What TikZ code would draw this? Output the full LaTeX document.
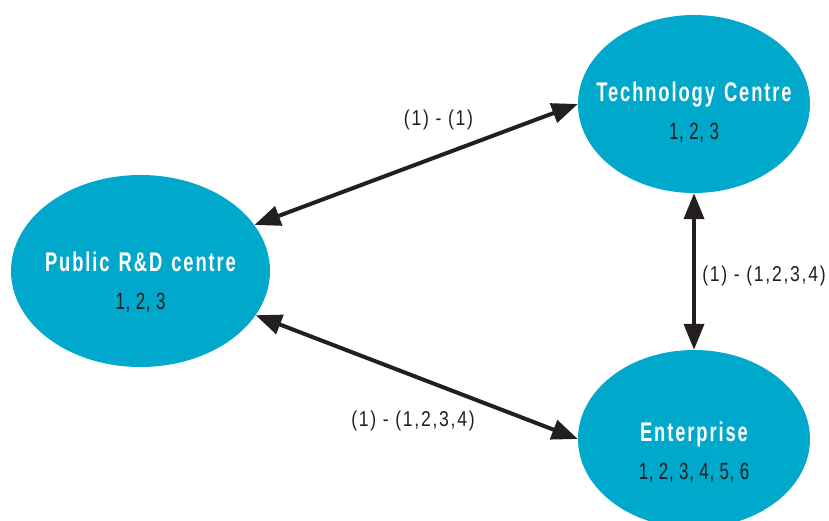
\documentclass[tikz,border=0pt]{standalone}
\usepackage{fontspec}
\setmainfont{Liberation Sans}
\newfontfamily\titlefont[FakeStretch=0.68,LetterSpace=7,WordSpace=1.3]{Liberation Sans Bold}
\newfontfamily\numfont[FakeStretch=0.72,LetterSpace=3]{Liberation Sans}
\newfontfamily\lblfont[FakeStretch=0.82,LetterSpace=8]{Liberation Sans}
\usetikzlibrary{shapes.geometric,arrows.meta,calc}
\definecolor{nodecyan}{RGB}{0,168,204}
\definecolor{inkdark}{RGB}{35,31,32}
\begin{document}
\begin{tikzpicture}[x=1pt,y=-1pt,
  blob/.style={ellipse, fill=nodecyan, draw=none, inner sep=0pt},
  ttl/.style={text=white, font=\titlefont\fontsize{27}{27}\selectfont, anchor=base, inner sep=0pt},
  num/.style={text=inkdark, font=\numfont\fontsize{23.5}{23.5}\selectfont, anchor=base, inner sep=0pt},
  lbl/.style={text=inkdark, font=\lblfont\fontsize{21.5}{21.5}\selectfont, inner sep=0pt},
  link/.style={draw=inkdark, line width=4pt,
    {Triangle[length=26pt,width=20pt]}-{Triangle[length=26pt,width=20pt]}}]
\useasboundingbox (0,0) rectangle (829,521);

% the three partners
\node[blob, minimum width=259pt, minimum height=192pt] (pub) at (140.5,271) {};
\node[blob, minimum width=232pt, minimum height=178pt] (tech) at (694,104) {};
\node[blob, minimum width=232pt, minimum height=178pt] (ent) at (694,439) {};

\node[ttl] (pubT) at (pub.center) {Public R\&D centre};
\node[num] (pubN) at ([yshift=-38pt]pub.center) {1, 2, 3};
\node[ttl] (techT) at ([yshift=2pt]tech.center) {Technology Centre};
\node[num] (techN) at ([yshift=-36pt]tech.center) {1, 2, 3};
\node[ttl] (entT) at ([yshift=-2pt]ent.center) {Enterprise};
\node[num] (entN) at ([yshift=-40pt]ent.center) {1, 2, 3, 4, 5, 6};

% links between partners
\draw[link] (pub.22) -- (tech.west);
\draw[link] (pub.-21) -- (ent.west);
\draw[link] (tech.south) -- (ent.north);

% link labels
\node[lbl] (l1) at (438.5,120) {(1) - (1)};
\node[lbl] (l2) at (413,421) {(1) - (1,2,3,4)};
\node[lbl] (l3) at (764,276) {(1) - (1,2,3,4)};
\end{tikzpicture}
\end{document}
